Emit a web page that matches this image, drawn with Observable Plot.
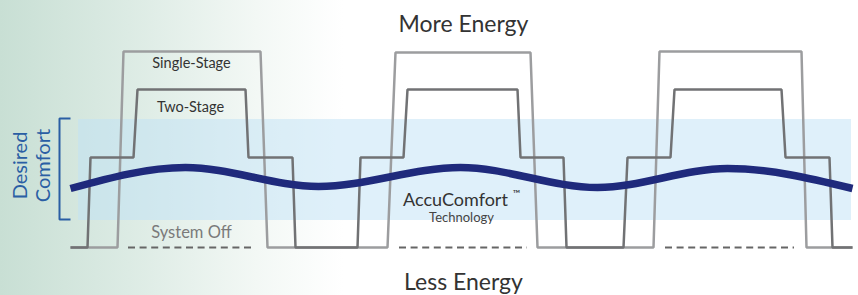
<!DOCTYPE html>
<html>
<head>
<meta charset="utf-8">
<script src="https://cdn.jsdelivr.net/npm/d3@7"></script>
<script src="https://cdn.jsdelivr.net/npm/@observablehq/plot@0.6"></script>
<style>
  html, body { margin: 0; padding: 0; }
  body {
    width: 858px; height: 295px; overflow: hidden;
    background: linear-gradient(to right, #c8dfd4 0%, #dcebe4 15%, #f3f8f5 30%, #ffffff 40%);
    font-family: Lato, "Open Sans", sans-serif;
  }
  svg { display: block; }
</style>
</head>
<body>
<div id="chart"></div>
<script>
// Time (x) and energy level (y) readings, in chart units (y: higher = more energy)
const singleStageTime  = [70, 117, 123, 260, 267, 387, 395, 530, 537, 653, 659, 801, 806, 852];
const singleStageLevel = [48, 48, 244, 244, 48, 48, 243, 243, 48, 48, 244, 244, 48, 48];

const twoStageTime  = [70, 87, 90, 133, 137, 245, 248, 292, 295, 357, 360, 403, 407, 517, 520, 563, 566, 623, 627, 670, 674, 781, 785, 829, 832, 852];
const twoStageLevel = [48, 48, 138, 138, 206, 206, 138, 138, 48, 48, 138, 138, 206, 206, 138, 138, 48, 48, 138, 138, 206, 206, 138, 138, 48, 48];

const accuTime  = [70, 185, 318, 460, 597, 727, 852];
const accuLevel = [107, 128, 109, 128, 108, 127, 107];

const comfortBand = {x1: 78, x2: 851, y1: 75, y2: 176};
const bracketTime  = [70, 59, 59, 70];
const bracketLevel = [177, 177, 76, 76];

const offStart = [128, 399, 665];
const offEnd   = [255, 527, 794];
const offLevel = 48;

const labels = [
  {text: "More Energy", x: 463, y: 264, size: 23, fill: "#333333"},
  {text: "Less Energy", x: 463, y: 6, size: 23, fill: "#333333"},
  {text: "Single-Stage", x: 191, y: 228, size: 14.5, fill: "#333333"},
  {text: "Two-Stage", x: 190, y: 184, size: 14.5, fill: "#333333"},
  {text: "System Off", x: 191, y: 58, size: 16.5, fill: "#7a7a7a"},
  {text: "AccuComfort", x: 455, y: 90, size: 18, fill: "#333333"},
  {text: "™", x: 516, y: 99, size: 10, fill: "#333333"},
  {text: "Technology", x: 461, y: 74, size: 13, fill: "#444444"}
];
const sideLabels = [
  {text: "Desired", x: 20, y: 130},
  {text: "Comfort", x: 43, y: 130}
];

const toPts = (xs, ys) => xs.map((x, i) => ({x, y: ys[i]}));

const chart = Plot.plot({
  width: 858,
  height: 295,
  margin: 0,
  x: {domain: [0, 858], axis: null},
  y: {domain: [0, 295], axis: null},
  style: {background: "transparent", fontFamily: "Lato, 'Open Sans', sans-serif"},
  marks: [
    Plot.rect([comfortBand], {x1: "x1", x2: "x2", y1: "y1", y2: "y2", fill: "#c0e2f5", fillOpacity: 0.5}),
    Plot.line(toPts(bracketTime, bracketLevel), {x: "x", y: "y", stroke: "#2a5ea4", strokeWidth: 2, strokeLinecap: "butt", strokeLinejoin: "miter"}),
    Plot.ruleY(offStart.map((s, i) => ({x1: s, x2: offEnd[i], y: offLevel})), {x1: "x1", x2: "x2", y: "y", stroke: "#666666", strokeWidth: 2, strokeDasharray: "7,4.6"}),
    Plot.line(toPts(singleStageTime, singleStageLevel), {x: "x", y: "y", stroke: "#9c9d9f", strokeWidth: 2.5, strokeLinejoin: "miter", strokeLinecap: "butt"}),
    Plot.line(toPts(twoStageTime, twoStageLevel), {x: "x", y: "y", stroke: "#717274", strokeWidth: 2.5, strokeLinejoin: "miter", strokeLinecap: "butt"}),
    Plot.line(toPts(accuTime, accuLevel), {x: "x", y: "y", curve: "monotone-x", stroke: "#1f2a7c", strokeWidth: 7.5, strokeLinecap: "butt"}),
    Plot.text(labels, {x: "x", y: "y", text: "text", fontSize: "size", fill: "fill", lineAnchor: "bottom", textAnchor: "middle"}),
    Plot.text(sideLabels, {x: "x", y: "y", text: "text", rotate: -90, fontSize: 20, fill: "#2a5ea4", lineAnchor: "middle", textAnchor: "middle"})
  ]
});
document.getElementById("chart").append(chart);
</script>
</body>
</html>
